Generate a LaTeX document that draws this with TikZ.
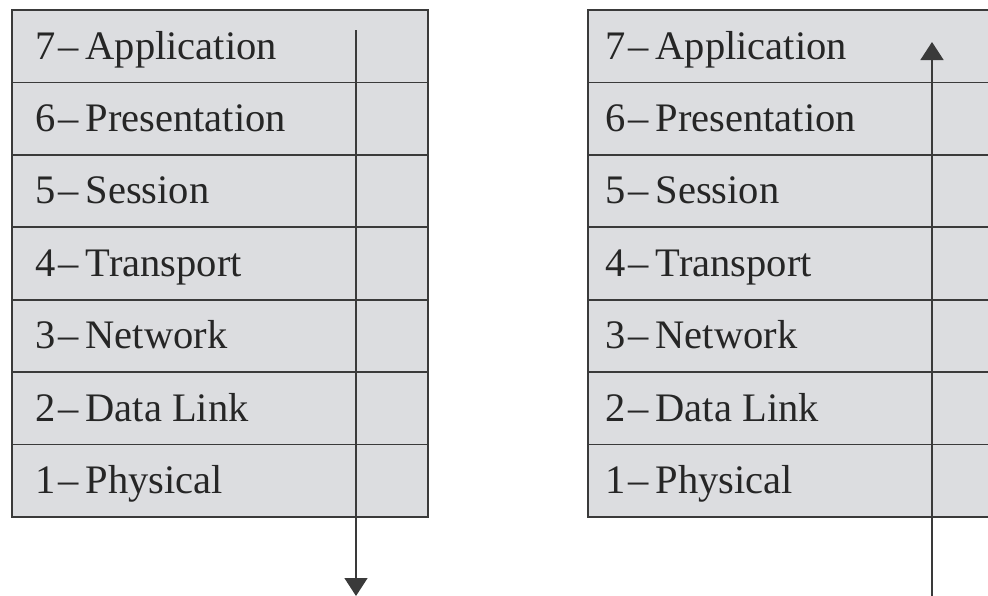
\documentclass[tikz,border=0pt]{standalone}
\usepackage{fontspec}
\setmainfont{Liberation Serif}
\usetikzlibrary{arrows.meta}
\definecolor{layerfill}{HTML}{DCDDE0}
\definecolor{rulecol}{HTML}{3A3A3A}
\begin{document}
\begin{tikzpicture}[x=1pt,y=-1pt,
  layer/.style={draw=rulecol, fill=layerfill, line width=1.8pt,
    minimum width=416pt, minimum height=72.4pt, anchor=north west,
    inner sep=0pt, outer sep=0pt},
  lbl/.style={anchor=base west, inner sep=0pt, text=black!85,
    font=\fontsize{40.5}{48}\selectfont},
  flow/.style={draw=rulecol, line width=1.5pt,
    -{Triangle[width=23pt,length=18pt]}}]
  \useasboundingbox (0,0) rectangle (988,595);
  \clip (0,0) rectangle (988,595);
  % the two protocol stacks, layer 7 on top
  \foreach \n/\name [count=\i from 0] in {7/Application,6/Presentation,5/Session,4/Transport,3/Network,2/Data Link,1/Physical}{
    \node[layer] (L\n) at (12,{10+72.4*\i}) {};
    \node[lbl] (LT\n) at (35,{59+72.4*\i}) {\n\hspace{3pt}–\hspace{7pt}\name};
    \node[layer] (R\n) at (588,{10+72.4*\i}) {};
    \node[lbl] (RT\n) at (605,{59+72.4*\i}) {\n\hspace{3pt}–\hspace{7pt}\name};
  }
  % sending side: data travels down the stack
  \coordinate (sendtop) at (356,30);
  \coordinate (sendend) at (356,596);
  \draw[flow] (sendtop) -- (sendend);
  % receiving side: data travels up the stack
  \coordinate (recvstart) at (932,600);
  \coordinate (recvtop) at (932,42);
  \draw[flow] (recvstart) -- (recvtop);
\end{tikzpicture}
\end{document}
